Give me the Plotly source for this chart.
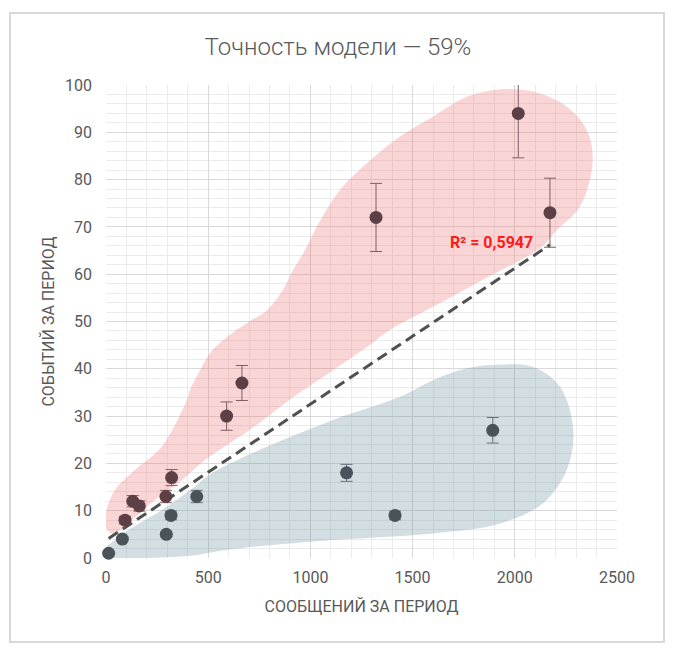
import numpy as np
import plotly.graph_objects as go

# "high" group (red blob)
red_x = [93, 131, 163, 293, 321, 590, 665, 1321, 2017, 2172]
red_y = [8, 12, 11, 13, 17, 30, 37, 72, 94, 73]

# "low" group (blue blob)
blue_x = [13, 80, 295, 318, 444, 1177, 1414, 1892]
blue_y = [1, 4, 5, 9, 13, 18, 9, 27]

# outlines of the highlighted areas (data units)
red_blob_x = [28, 0, 0, 44, 142, 272, 396, 411, 460, 509, 592, 690, 788, 866, 915, 974, 1031,
              1145, 1275, 1438, 1600, 1765, 1928, 2089, 2254, 2352, 2381, 2319, 2205, 2123, 1850,
              1600, 1389, 1277, 1111, 915, 704, 484, 354, 240, 126, 60]
red_blob_y = [5.2, 6.4, 9.6, 14.4, 18.6, 23.5, 33.4, 35.5, 39.7, 43.3, 46.7, 49.7, 52.4, 56.7,
              60.9, 65.1, 70.0, 77.8, 83.4, 89.1, 93.3, 97.5, 99.1, 98.6, 95.4, 90.5, 84.1, 74.3,
              69.3, 65.5, 59.0, 53.1, 48.2, 44.6, 39.7, 34.0, 27.1, 20.7, 15.8, 12.3, 8.0, 5.6]
blue_blob_x = [40, 0, 0, 30, 109, 272, 435, 517, 786, 1111, 1438, 1600, 1765, 1895, 2089, 2221,
               2286, 2254, 2139, 1928, 1600, 1111, 621, 400, 200]
blue_blob_y = [0, 0, 2.2, 3.4, 5.9, 10.1, 15.1, 17.9, 23.5, 29.2, 34.1, 37.6, 40.1, 40.8,
               40.4, 36.2, 27.1, 18.6, 11.6, 7.3, 5.2, 3.8, 1.9, 0.4, 0]

r2_text = "R² = 0,5947"
err_pct = 10

# the page body adds an 8px margin around the figure
OFF = 8
W, H = 676 - 2 * OFF, 662 - 2 * OFF
L, T = 106 - OFF, 85 - OFF
PW, PH = 511, 473
R, B = W - L - PW, H - T - PH
font = "Roboto, 'Noto Sans', sans-serif"
grey_txt = "#595959"

fig = go.Figure()

# Shaded areas
fig.add_trace(go.Scatter(
    x=red_blob_x + red_blob_x[:1], y=red_blob_y + red_blob_y[:1],
    mode='lines', fill='toself', line=dict(width=0, shape='spline', smoothing=1.0),
    fillcolor='rgba(235,115,115,0.30)', hoverinfo='skip', showlegend=False
))
fig.add_trace(go.Scatter(
    x=blue_blob_x + blue_blob_x[:1], y=blue_blob_y + blue_blob_y[:1],
    mode='lines', fill='toself', line=dict(width=0, shape='spline', smoothing=1.0),
    fillcolor='rgba(108,145,162,0.30)', hoverinfo='skip', showlegend=False
))

# Linear trend over all points
all_x = np.array(red_x + blue_x, dtype=float)
all_y = np.array(red_y + blue_y, dtype=float)
k, b = np.polyfit(all_x, all_y, 1)
tx = np.array([all_x.min(), all_x.max()])
fig.add_trace(go.Scatter(
    x=tx, y=k * tx + b, mode='lines',
    line=dict(color='#505050', width=3, dash='11px,6px'),
    hoverinfo='skip', showlegend=False
))

# Points with error bars
fig.add_trace(go.Scatter(
    x=blue_x, y=blue_y, mode='markers',
    marker=dict(color='#4a525a', size=13),
    error_y=dict(type='percent', value=err_pct, color='#6a727a', thickness=1, width=6),
    cliponaxis=False, showlegend=False
))
fig.add_trace(go.Scatter(
    x=red_x, y=red_y, mode='markers',
    marker=dict(color='#5d4046', size=13),
    error_y=dict(type='percent', value=err_pct, color='#7d5f65', thickness=1, width=6),
    cliponaxis=False, showlegend=False
))

fig.add_annotation(
    x=1888, y=66.6, text=f"<b>{r2_text}</b>", showarrow=False, xanchor='center',
    font=dict(family=font, size=16, color='#ff1a1a')
)

# outer frame
fig.add_shape(
    type='rect', xref='paper', yref='paper',
    x0=(10 - OFF - L) / PW, x1=(664 - OFF - L) / PW,
    y0=(H - B - (642 - OFF)) / PH, y1=(H - B - (13 - OFF)) / PH,
    line=dict(color='#d9d9d9', width=2)
)

fig.update_layout(
    title=dict(text="Точность модели — 59%", x=0.5, xanchor='center',
               y=1 - (47 - OFF) / H, yanchor='middle',
               font=dict(family=font, size=24, color=grey_txt, weight=300)),
    width=W, height=H,
    margin=dict(l=L, r=R, t=T, b=B),
    plot_bgcolor='white', paper_bgcolor='white',
    font=dict(family=font, color=grey_txt),
    xaxis=dict(
        range=[0, 2500], dtick=500, showline=False, zeroline=False,
        gridcolor='#d9d9d9', gridwidth=1,
        minor=dict(dtick=100, showgrid=True, gridcolor='#ebebeb'),
        tickfont=dict(size=16, color=grey_txt), ticklabelstandoff=8,
        title=dict(text="СООБЩЕНИЙ ЗА ПЕРИОД", font=dict(size=16, color=grey_txt), standoff=14)
    ),
    yaxis=dict(
        range=[0, 100], dtick=10, showline=False, zeroline=False,
        gridcolor='#d9d9d9', gridwidth=1,
        minor=dict(dtick=2, showgrid=True, gridcolor='#ebebeb'),
        tickfont=dict(size=16, color=grey_txt), ticklabelstandoff=13,
        title=dict(text="СОБЫТИЙ ЗА ПЕРИОД", font=dict(size=16, color=grey_txt), standoff=6)
    )
)

fig.write_html("out.html")
